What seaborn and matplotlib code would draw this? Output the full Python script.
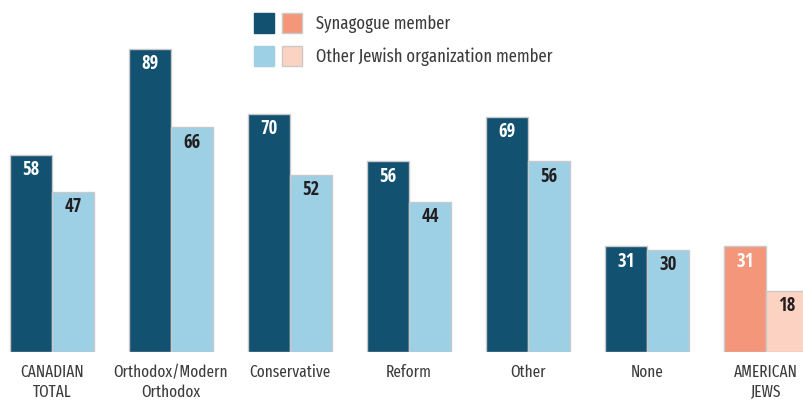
import matplotlib
matplotlib.use("Agg")
import matplotlib.pyplot as plt
from matplotlib import font_manager as fm
from matplotlib.patches import Rectangle
import seaborn as sns
import pandas as pd

categories = ["CANADIAN\nTOTAL", "Orthodox/Modern\nOrthodox", "Conservative", "Reform", "Other", "None", "AMERICAN\nJEWS"]
synagogue = [58, 89, 70, 56, 69, 31, 31]
other_org = [47, 66, 52, 44, 56, 30, 18]
series_names = ["Synagogue member", "Other Jewish organization member"]

names = {f.name for f in fm.fontManager.ttflist}
def pick(cands):
    return next((f for f in cands if f in names), "DejaVu Sans")
LIGHT_FONT = pick(["Fira Sans Extra Condensed", "Barlow Condensed", "PT Sans Narrow"])
BOLD_FONT = pick(["Open Sans Condensed", "Fira Sans Extra Condensed", "PT Sans Narrow"])

sns.set_theme(style="white")
plt.rcParams['font.family'] = [LIGHT_FONT, 'DejaVu Sans']

DARK, LIGHT = "#135170", "#9dd0e4"
SALMON, PALE = "#f4967a", "#fcd3c2"
EDGE = "#c9c9c9"
TXT = "#3c3c3c"

df = pd.DataFrame({
    "cat": categories * 2,
    "value": synagogue + other_org,
    "series": [series_names[0]] * len(categories) + [series_names[1]] * len(categories),
})

fig = plt.figure(figsize=(8.04, 4.02), dpi=100)
ax = fig.add_axes([0, 49 / 402, 1, 353 / 402])
sns.barplot(data=df, x="cat", y="value", hue="series", order=categories,
            hue_order=series_names, palette=[DARK, LIGHT], width=0.706,
            edgecolor=EDGE, linewidth=1, saturation=1, legend=False, ax=ax)

n = len(categories)
for i, p in enumerate(ax.patches[:2 * n]):
    s, c = divmod(i, n)
    if c == n - 1:
        p.set_facecolor(SALMON if s == 0 else PALE)
    val = p.get_height()
    x = p.get_x() + p.get_width() / 2
    color = "white" if s == 0 else "#231f20"
    ax.annotate(f"{val:.0f}", (x, val), xytext=(0, -3), textcoords="offset points",
                ha="center", va="top", fontsize=13.5, fontweight="bold", color=color,
                family=[BOLD_FONT, "DejaVu Sans"])

ax.set_xlim(-52 / 119, (804 - 52) / 119)
ax.set_ylim(0, 353 / 3.404)
ax.set_xlabel("")
ax.set_ylabel("")
ax.set_yticks([])
ax.tick_params(axis="x", length=0, pad=8, labelsize=12, labelcolor=TXT)
for lab in ax.get_xticklabels():
    lab.set_linespacing(1.3)
    lab.set_fontweight("normal")
for sp in ax.spines.values():
    sp.set_visible(False)

# legend
H = 402
def rect(x, ytop, color, edge=None):
    fig.patches.append(Rectangle((x / 804, (H - ytop - 20) / H), 20 / 804, 20 / H,
                                 transform=fig.transFigure, facecolor=color,
                                 edgecolor=edge if edge else color, linewidth=1))
rect(254, 14, DARK)
rect(282, 14, SALMON, EDGE)
rect(254, 47, LIGHT)
rect(282, 47, PALE, EDGE)
fig.text(316 / 804, (H - 24) / H, series_names[0], ha="left", va="center", fontsize=13, color=TXT, fontweight="normal")
fig.text(316 / 804, (H - 57) / H, series_names[1], ha="left", va="center", fontsize=13, color=TXT, fontweight="normal")

fig.savefig("out.png", dpi=100)
